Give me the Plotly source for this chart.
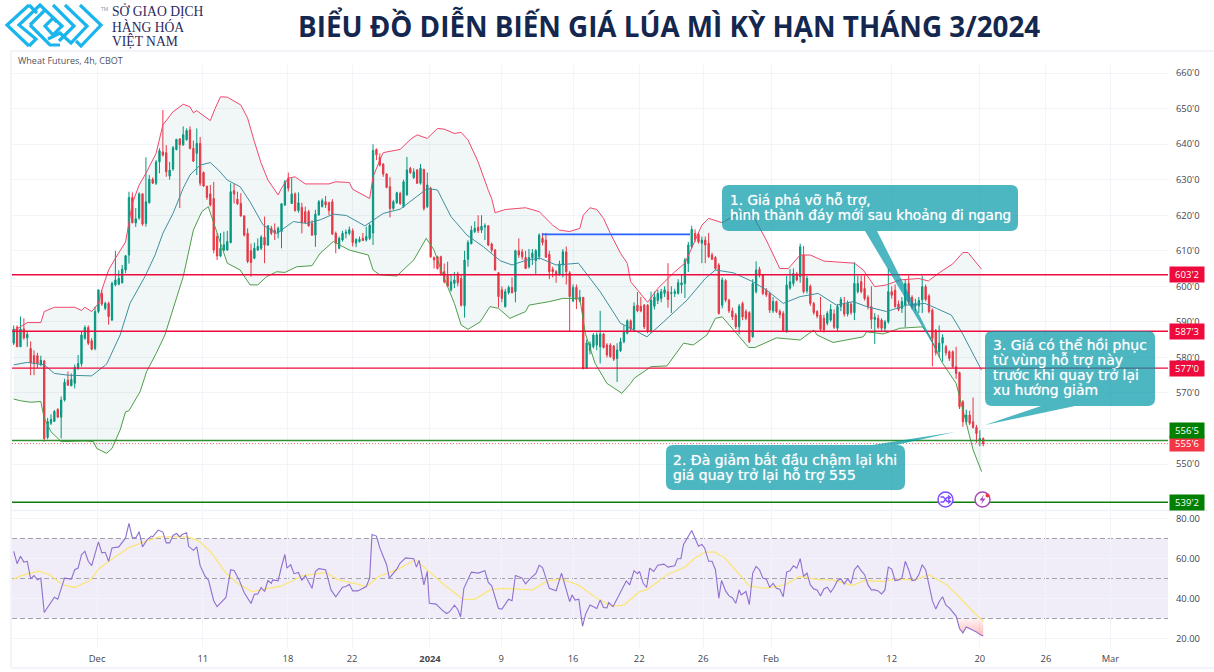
import plotly.graph_objects as go

W, H = 1214, 672

# ---------- chart text ----------
TITLE = "BIỂU ĐỒ DIỄN BIẾN GIÁ LÚA MÌ KỲ HẠN THÁNG 3/2024"
LOGO_LINES = ["SỞ GIAO DỊCH", "HÀNG HÓA", "VIỆT NAM"]
SYMBOL = "Wheat Futures, 4h, CBOT"
NOTE_1 = ["1. Giá phá vỡ hỗ trợ,", "hình thành đáy mới sau khoảng đi ngang"]
NOTE_2 = ["2. Đà giảm bắt đầu chậm lại khi", "giá quay trở lại hỗ trợ 555"]
NOTE_3 = ["3. Giá có thể hồi phục", "từ vùng hỗ trợ này", "trước khi quay trở lại", "xu hướng giảm"]

# ---------- time axis (bar numbers) ----------
date_ticks = [24.6, 55.8, 80.9, 99.8, 122.8, 143.8, 165, 184.5, 203.4, 223.4, 259, 285, 304.5, 323.5]
date_labels = ["Dec", "11", "18", "22", "<b>2024</b>", "9", "16", "22", "26", "Feb", "12", "20", "26", "Mar"]

price_ticks = [550, 560, 570, 580, 590, 600, 610, 620, 630, 640, 650, 660]
price_labels = ["550'0", "560'0", "570'0", "580'0", "590'0", "600'0", "610'0", "620'0", "630'0", "640'0", "650'0", "660'0"]
rsi_ticks = [20, 40, 60, 80]
rsi_labels = ["20.00", "40.00", "60.00", "80.00"]

# ---------- candles ----------
open_prices = [
    584,588.5,583,588,585.5,582.5,580.5,580.5,578,579,
    557.5,561.5,562,565.4,563.2,568,573.6,572,572.7,577,
    578.2,585.4,588.4,584.7,582.5,592.9,598,593.8,595.2,590.5,
    600.4,600.6,601,604.6,608.8,625,617.8,619.2,626,617.7,
    623.5,630.1,629,635,637.8,637.6,631,633,638.5,641.5,
    639.8,641.2,644,638.8,637.4,640.2,632,628.2,626,624.7,
    614,608.5,610.2,610.2,612.3,626.9,624.5,623.3,619.8,614.9,
    610,607.9,610.2,610.7,613.8,611.6,616.3,615.8,615,615.4,
    622.9,630.4,623.3,626,621.3,622.2,621,621,617.7,614.4,
    620.1,622.4,623.8,623.5,623.8,614.9,610.7,613,614.9,614.9,
    615.6,612.1,612.6,613.5,613,613.5,615,638.5,636.3,634.4,
    631.6,628,621.9,623.5,626.1,622.4,625.7,633.2,630.6,632.7,
    629,632.9,622.4,627.6,608.1,608.3,608.3,604.1,603,599,
    600.8,603.5,602.2,594.5,607.6,612,615.4,616.6,615.8,616.7,
    617,611.9,610.2,603.8,599,594.3,598.2,599.7,598.5,610,
    609.7,608.1,605.5,608,607.2,608.3,613.5,613,609,604.8,
    604.1,603.5,606,609.7,603.8,595.9,599.7,595.9,596.9,576.9,
    581.9,583,583.5,583,586.6,583.5,583.5,583.2,579.7,581.9,
    584.4,586.8,590.3,587.9,594.7,594.4,594.7,594.7,587.2,594.4,
    596,596.6,598,598.5,598,598,598,600.4,600.8,606.4,
    611.1,614.9,614.7,612.1,613,612.1,608.8,608.1,606,594.7,
    601.6,596.1,593.1,591.9,588.6,595.2,592.9,592.6,585.8,598.5,
    604.8,603.2,598.8,598,593.1,595.7,592.9,592.4,587.2,599.5,
    600.8,603.5,602.7,608.8,598.7,600,595.2,592.9,591.9,591,
    589.6,590.5,592.2,588.2,594.3,595,592.2,595,592.6,598.5,
    601.3,599.4,596.9,594.3,590.7,591,590.5,588.2,590,598.5,
    598.9,595,593.8,594.7,600.8,596.9,594.5,594.5,596.2,599.9,
    597.3,593.3,587.5,581.6,584,583,581.6,581.6,577.4,575.7,
    567.5,561.9,563.8,561.9,560.3,556.5,557.2,
]
high_prices = [
    589,589,591.5,591,587.5,584.5,582,581.3,580.5,579.3,
    563,564,565.2,565.7,569,574,576,575.5,578,580.7,
    587.2,589,589,585.4,594.3,599,599,595.7,595.7,601.3,
    610,604.5,606,608.8,626.6,626.4,622,626.4,626.2,636.3,
    631.3,630.6,635.5,638.8,649.6,639.7,635,639.5,641.5,641.5,
    645,644.4,645,641,644.4,642,632.3,628.2,628.5,629.4,
    615,615,615.4,615.6,629,628.8,626.6,626.2,620,616.3,
    612,612.3,613.5,614.4,619.6,617.2,617,617.7,616.8,623.3,
    629.9,632,630.4,626.4,626.4,623.5,622.4,621.5,618.6,621.5,
    624.3,624.7,625.4,623.8,624.5,615.4,614,615.6,616,616.8,
    616.3,613.5,614,615,616.8,617.7,640,638.8,637.4,634.6,
    631.8,630.7,624.3,626.6,626.6,630,636.4,633.6,633.2,633,
    634.4,633,632,628,608.4,608.6,608.6,606.4,606.9,603.3,
    604,604.1,603.5,610,613,617,618.3,620,620,617.7,
    617.2,612.3,610.5,604,600,599.3,600.2,602.5,610.3,613.5,
    610.5,610,610.5,610.5,610.5,614.9,615,615,610,605.5,
    604.6,607.2,610.5,611.2,604.3,600.5,600.5,599,597,585,
    584.5,586.8,587,593.1,586.9,584,584,583.5,584,585.5,
    589,590.7,590.7,595.5,598.4,597,595,595,598.5,598.5,
    599,599.3,600,606.5,600,599.3,602,603.2,608,612.5,
    617,616,615,614,614,615,609.5,608.5,606.5,602.5,
    602,596.5,594,592.5,595,595.7,593.5,593,602,607,
    605.5,603.5,599.5,598.5,597,596,593.5,593,603,604.8,
    605,604,612,611.3,603,600.5,595.6,593.3,597,592,
    593,595,593.5,595,597,597,596,595.5,606.8,603,
    603,603,597.5,600,592.5,592,591,590.5,605,600,
    600.5,596,597,602,603,597.5,596.5,597,603,600.5,
    597.8,593.8,588,589,586.5,583.5,582,582,583,576,
    568,565.3,565,568.7,561,559.5,557.5,
]
low_prices = [
    583.5,583,583,585,583,575,575,577,577.5,556.3,
    557,561,562,563,557.2,567.6,572,572,571.3,576.5,
    577.4,585,583.5,582,582,592.4,594.5,593.3,589.2,590.3,
    600,600.3,600.8,603.7,606.4,617.7,616.7,618.7,617,616.8,
    623.3,628.8,628.5,631.8,636.5,630.8,630,632.5,638.2,622,
    639.5,641,638.5,635,631.3,628.2,628,624.3,622.4,609.3,
    607.4,608.2,609.8,610,612.1,623.3,622.9,619.6,614,606.5,
    602.7,607.6,610,610.2,606.5,611.4,614.4,613,613.5,610.7,
    622.6,626.7,623.2,621,620.7,614.9,617.7,616.8,614.2,611.1,
    619.8,622.2,622,620,614.4,609.3,610.4,612.6,613.5,614.4,
    611.2,611,612.3,612.7,612.6,613,611.6,635.5,633.7,630.8,
    627.6,619.4,621.5,623.2,622.9,622.1,625.5,631.6,630.2,628.8,
    628.6,621.3,622,608,605,604.7,603,600.8,599.8,598.5,
    599.5,600,594.3,591.2,605.5,611.8,615,615,615,613,
    611.3,609.5,604.4,594,595.5,594,597.7,598,595.5,608,
    607.5,605,605,606,603.5,607.5,611.5,608,602,602.5,
    601,603,602.5,600.5,587.3,595.5,593.6,595.5,576.6,576.8,
    580.8,582.5,582,578.3,582.5,580,579.9,579,573.1,581.5,
    584,586.5,587.4,587.4,592.7,592.7,588,586.8,587,593.5,
    595,595.5,597,594,592.5,597,597.7,598,596.7,604,
    610.5,612.5,612,606.5,606.5,608,607.4,604.5,592,593.8,
    595.5,592.5,590.5,588,586.5,590.5,590.5,584,585.5,598,
    602.5,597.5,597,592.5,592.5,592.5,591,587.3,587,599,
    600,601.4,601,598,598,594.5,592,591,587.4,587,
    589,590,588,587.5,593,591.5,591.5,592,590.5,598,
    598,596,593.5,588,583.8,588,587.5,587.5,589.5,596.5,
    594,593,592.5,588.5,595,593.5,593,592.5,592.5,595.8,
    592.4,577.5,580.5,580,578.8,580.5,579,577,574,565.5,
    560.5,561,561,560,556,555,555,
]
close_prices = [
    588,583,588,585.5,586.5,578.5,578.5,578.3,579.2,557.2,
    562,562.6,564.8,563.2,568,573,572.2,573.8,577.2,578.3,
    586.3,588.4,584,582.3,592.9,599,595,595.2,591.5,600.8,
    601.8,602.2,604.8,608.6,625,617.9,619,626,617.5,623.8,
    630.1,629,635,638.1,636.9,632.2,632.7,639,641.3,639.8,
    642.6,643.8,638.8,635.2,640.2,629,628.2,625,622.9,610.2,
    608.5,610.7,611.7,612.6,626.6,626,623.2,619.8,614.4,607,
    606.7,610.7,611.2,613.8,611.6,617,614.9,614.9,616.3,623.2,
    629.4,627.6,626,621.3,623.5,617.9,617.9,617,614.4,620.3,
    623.8,624.1,622.9,621.3,614.7,612.1,613.5,614.9,615.2,615.9,
    612.3,613.2,613.2,612.9,614,617.2,638.2,637,634.1,631.6,
    627.8,621.9,623.8,626.3,623.3,629.4,632.7,632,632.2,629,
    633.2,621.9,628.5,608.3,607.4,605,603.6,601.3,600,601.3,
    601.8,601,594.7,607.4,612.3,615.8,616.3,615.6,616.9,617,
    611.6,610.2,604.6,597.1,596.6,598.5,599.7,598.2,610,608.8,
    608.3,605,608.1,609.3,610,614.4,612.3,608.2,604.1,604.1,
    603.4,606.3,609.7,604.1,597.1,599.7,596.3,596.9,576.9,584.1,
    583.8,586.3,586.3,586.6,582.8,580.7,580.2,579.5,582.1,584.4,
    587.2,590.3,587.9,594.4,593.1,593.1,588.6,587.2,596.1,597,
    598,598.5,599,596.3,598.2,598.5,601,601,607.4,611.6,
    616,613.2,612.5,613,611.6,608.3,607.6,605,592.4,601.8,
    596.1,593.1,591.4,588.6,594.4,591.4,591,584.4,600.8,604.6,
    603.2,598,597.6,593.3,595.7,592.9,592,587.7,600.4,601.3,
    603.6,601.8,611.1,598.5,602.2,595.2,592.6,591.6,587.9,587.7,
    592.4,593.5,588.5,594.3,596.3,592.2,595.2,592.6,600.8,600.8,
    598.5,596.6,594.3,590.7,591.3,588.5,588.2,590,598.5,597.5,
    594.3,593.5,595.7,600.8,595.7,594.3,595.2,596,599.9,596.3,
    592.9,585.4,581.3,584,585.6,581.3,579.7,577.4,575.5,566.1,
    561.9,563.8,561.5,560.3,558.6,557.2,555.7,
]
bars = list(range(len(close_prices)))

# ---------- Bollinger bands: (bar, value) read at the turning points ----------
upper_x = [0,2,4,8,9,12,18,20,21,23,25,26,28,30,33,35,37,39,42,44,47,50,52,53,54,58,59.4,61,63,67,69,71,73,75,78,79,81,83,86,93,95,99,100,105,106,108,109,114,117,119,122,125,127,130,132,134,137,140,141,142,145,151,155,159,161,164,167,168,170,172,174,176,179,181,182,184,187,190,193,195,198,200,203,205,209,212,216,218,222,226,228.5,232,235,239,248,250.6,254,257.5,261.4,267,269.8,273,277,280,281.5,285.5]
upper_y = [587.5,588.6,589.8,589.8,592.9,594.1,594.1,593.2,594.1,592.9,595.2,599,604.6,607.9,612.5,623.3,628.5,631.8,637.4,645.4,649.1,651.2,650.5,648.8,649.4,646.6,650,653.3,653.2,651,647.3,640.7,634.6,629.9,625.7,627.6,630.4,630.8,628.8,628.8,629.4,629.2,627.3,624.7,630.8,635.5,637.6,638.5,641.3,642.6,641.6,644.4,644.2,643,643.3,641.2,635,627,624.7,620.7,621.6,622.1,621,617.2,615.8,615.4,616.3,620,622.1,621.6,619.1,614.9,609.3,606.5,601.3,599,595.5,599.4,602.2,604.1,606.5,610.7,617.2,619.1,617.9,619.6,621,620,613,605,605,608.8,608.8,607.1,606.5,604.6,599.9,600.4,601.8,602.2,601.5,603.8,606.3,609.5,609.5,604.8]
lower_x = [0,2,5,8,9,11,14,21,23.5,24.5,27.4,29,31.4,33,34,37.3,39.2,42,44.6,47,50,53,55.5,57.4,60,63,66.8,69.7,72,74.6,77.6,80,83.5,88,90.4,94.3,99,104.6,106,108,113,118,121.7,124,127,130,132,134,137.6,140.5,143,146.4,151,152,158,162,167,168.6,171.5,175,179.4,182,183,188,192.7,197.6,200.5,204.5,207,209,216.8,218.7,225,232,236,237,241.7,246,250.6,251.6,256.5,261.4,268,270,273.7,278,281,283,285.5]
lower_y = [568.3,567.8,567.4,567.6,562.9,559.1,556.3,556.5,556.3,554.4,553,554.4,559.6,564.7,565,570.4,576,581.1,586.3,593.3,602.7,615.8,621,622.4,614.9,606.5,604.6,600.4,600.4,602.7,604.1,603.9,605.5,605.8,609.3,612.6,610.2,608.8,604.6,603.2,602.9,607.4,613.5,610.2,602.2,595.2,589.1,587.9,590,594.3,593.8,591,592.9,594.7,595.7,596.6,596.6,586.8,578.3,572.7,569.9,572.7,574.1,577.4,577.6,584,583.5,586.3,591,591.4,582.8,582.8,585.5,584.9,587.7,586.3,584.2,584.9,585.8,587.2,586.6,588.2,588.6,586.3,578.8,572.7,561.4,554,547.9]
basis_x = [0,4,9,12,16,23,27.4,31.4,34.3,38.7,41.7,44,47,50,52,55,58,60.4,63,66.8,69.7,73.6,77.6,82.5,86.4,90.4,94.3,98.2,103.6,109,114,118,122,125,129,133.7,138.6,143.5,147,151.4,155.3,160,166.6,173,179,183,186.8,191.7,198.6,204,207,212.3,218,222,227,232,237.3,242.7,247.6,251.6,257.5,263.4,268.8,272.2,276.6,279.6,283,285.5]
basis_y = [577.9,578.6,577.9,575.5,575,574.8,578.1,586.3,595.2,602.7,608.8,614.9,620.5,627.6,631.3,634.1,634.8,632.7,629.9,628,623.8,617.2,614.9,618.2,617.7,618.7,620.3,619.9,617,620.5,621.7,624.7,627.5,627.1,619.6,614.4,611.1,607.2,606,607.4,607.9,606,606.5,598.5,589.6,587.7,585.8,590,596.1,602.2,604.6,603.8,601.3,599,595.2,597.1,598,594.7,595.7,594.3,592.9,594.7,595.2,593.8,591.9,587.2,581.1,576.4]

# ---------- RSI ----------
rsi_x = [0,1,2,3,4,5,6,7,8,9,12,13,15,17,18,19,20,21,22,23,25,26,27,28,29,31,33,34,35,36,37,38,39.4,40.6,41,42.6,44,45,46,47,48,49,49.7,51,51.6,53,54,55,56.4,57.5,59,60,62.6,64,65,66.5,68,70,71,72,73,74,75,76,76.4,78,79,80,80.6,81.7,82.7,84,85,86,88,89,90,92,93.6,95,97,98,99,100,101.5,104,105,105.7,107,108,110,110.8,113,114,115.6,118,118.8,119.6,121,122,122.6,124.6,126.4,127.7,128.6,130,131,131.8,132.8,135,137,139,140,141,143,144,146,147,148,150,151,152.5,154,155,156,158,160,161.6,164,164.7,165.6,166.7,167.8,168.7,170,172,173,174,175,175.5,176.8,179.3,180.7,181.7,183,184,184.6,185.7,186.7,187.6,188.8,190,191.8,193,195,195.8,196.8,197.6,200,202,203,203.8,205,206,207,208,208.8,210,211,212,213,214,214.6,216,217,218,219,220,221,222,223,224,225,226,227,228,229,230,231,232,233,234,235,236,237,238,239,240,241,242,243,244,245,246,247,248,249,250,251,252,253,254,255,256,257,258,259,260,261,262,263,264,265,266,267,268,269,270,271,272,273,274,275,276,277,278,279,280,281,282,283,284,285,286]
rsi_y = [63.6,57.4,61.1,58.2,58.6,49.8,51.5,49.3,50.2,33,40.6,39.6,50.2,49.7,54.4,55.2,61.9,63.6,58.6,56.4,68.3,62.8,63.1,58.6,65.3,65.8,70.3,77.6,70.3,70.3,73.4,65.8,69.5,71.2,70.8,74.2,73.2,67.8,67.8,71.5,72.5,70.8,72,72.9,66.1,64.1,65.8,56.4,51.3,49,38.9,35.9,40.5,54.4,54,49.3,42.9,37.5,42.1,42.3,45.5,43.5,49,47.6,49.3,48.8,56,62,55.2,56.9,52.4,53,49,51.5,45.1,53.5,54.9,54.4,44.3,40.9,45.6,46,47.1,43.8,43.8,46,50.2,72,71.2,65.3,56.9,50.2,54.7,57.7,60.3,59.9,55.7,59.1,46.8,53.5,37.6,37.2,34.2,32.5,33.4,36.7,34.5,30.8,45.1,53.2,52.7,53.9,48,46.3,35,34.7,39.6,38.9,51.5,50.2,47.3,50.2,52.4,56.6,55.5,45.1,43.9,52.7,38.4,41.8,39.2,39.7,26.1,32.2,36.7,35,39.2,35.5,35.3,38,35.9,44.3,48.8,46.8,53.9,52.4,53.6,47.6,45.5,55.2,53.5,56.6,57.2,55.7,56.4,59.9,59.9,67,74,66.1,67,65.3,58.6,58.6,54.4,40.1,49,43.8,41.3,40.4,37.6,44.3,41.8,43.5,37,52.7,56,54.4,50.2,49.7,45.6,47.6,45.1,44.6,40.9,53.2,53.9,56.4,55.2,59.9,51,52.7,46.8,44.8,44.3,41.3,44.8,45.6,43.1,45.6,49,49.8,47.3,49.8,47.6,54.4,56.4,53.9,51.9,46.8,44.3,44.3,43.8,42.3,44.3,55.7,54.7,49,49.3,50.2,58.6,54.4,49,49.3,51.9,56.9,54.4,46.8,38.9,34.7,38.4,40.9,36.7,35.3,33.4,31.2,25,22.8,25.8,25,24.4,23.3,22,21.2]
rsi_ma_x = [0,3,7.6,10.6,14.6,18,22.5,25.3,28.7,33.8,37.7,42.8,51.3,54.6,58,62.6,66,70.4,75,78.4,81.8,85,92,95.8,101,104,107.7,113.4,118.6,122.4,127,132.6,136,140.5,144,153,157.4,161.4,166.5,172,176.4,180,184.6,187,192.7,198,201,203.8,206.7,210,213.6,217,221.2,227.6,231.7,238,241.5,247.4,251,256.7,259.6,266,270,275.3,278.8,283.5,286]
rsi_ma_y = [49.8,51.8,53.7,51.8,46.8,45.5,49,55.2,59.4,65.3,67.8,70.8,70.8,68.7,63.6,52.7,47.6,43.4,45.1,46,48.5,51.3,53,49.3,47.3,46,51,54.7,59.4,53.5,46.8,39.6,39.6,44.3,45.1,44.3,48.8,49.8,46.8,40.1,36.2,36.7,43.4,44.6,51.9,55.7,60.3,63.1,63.3,59.9,52.7,46.3,45.1,46.8,51,49.3,49.3,46.5,49,48.5,49.7,49.3,51.9,46.8,40.9,32.5,28.8]

# ---------- levels ----------
red_levels = [603.25, 587.375, 577.0]
red_level_labels = ["603'2", "587'3", "577'0"]
support_level = 556.625
support_label = "556'5"
last_price = 555.75
last_label = "555'6"
target_level = 539.25
target_label = "539'2"
blue_line_price = 614.6
blue_line_bars = [155.8, 199.5]

RED = "#ee0a3c"
UP = "#089981"
DOWN = "#f23645"
TEAL = "rgba(0,151,167,0.7)"
AXIS = "#43464f"
GRID = "#f3f4f9"
FRAME = "#eff1f8"

# pane geometry, in page pixels
PANE_L, PANE_R = 12, 1168
MAIN_T, MAIN_B = 65, 511
RSI_T, RSI_B = 512, 648


def X(px):
    return px / W


def Y(py):
    return 1 - py / H


def path(points, close=False):
    s = " ".join(("M" if i == 0 else "L") + f" {X(x):.5f} {Y(y):.5f}" for i, (x, y) in enumerate(points))
    return s + (" Z" if close else "")


def callout(l, t, r, b, side, a, c, tip):
    """Rounded box with a pointer on its top or bottom edge, as one outline."""
    k = 7
    top = [(l + k, t), (r - k, t)]
    bottom = [(r - k, b), (l + k, b)]
    if side == "top":
        top = [(l + k, t), (a, t), tip, (c, t), (r - k, t)]
    else:
        bottom = [(r - k, b), (c, b), tip, (a, b), (l + k, b)]
    s = f"M {X(top[0][0]):.5f} {Y(top[0][1]):.5f} "
    s += " ".join(f"L {X(x):.5f} {Y(y):.5f}" for x, y in top[1:])
    s += f" Q {X(r):.5f} {Y(t):.5f} {X(r):.5f} {Y(t + k):.5f}"
    s += f" L {X(r):.5f} {Y(b - k):.5f} Q {X(r):.5f} {Y(b):.5f} {X(r - k):.5f} {Y(b):.5f} "
    s += " ".join(f"L {X(x):.5f} {Y(y):.5f}" for x, y in bottom[1:])
    s += f" Q {X(l):.5f} {Y(b):.5f} {X(l):.5f} {Y(b - k):.5f}"
    s += f" L {X(l):.5f} {Y(t + k):.5f} Q {X(l):.5f} {Y(t):.5f} {X(l + k):.5f} {Y(t):.5f} Z"
    return dict(type="path", xref="paper", yref="paper", path=s, fillcolor=TEAL, line=dict(width=0), layer="above")


fig = go.Figure()

# Bollinger fill and lines
fig.add_trace(go.Scatter(x=upper_x, y=upper_y, mode="lines", line=dict(color="#f0476b", width=1), xaxis="x", yaxis="y"))
fig.add_trace(go.Scatter(x=lower_x, y=lower_y, mode="lines", line=dict(color="#4f9d4a", width=1), fill="tonexty",
                         fillcolor="rgba(0,110,110,0.055)", xaxis="x", yaxis="y"))
fig.add_trace(go.Scatter(x=basis_x, y=basis_y, mode="lines", line=dict(color="#3f8f9f", width=1), xaxis="x", yaxis="y"))

# Candles
fig.add_trace(go.Candlestick(
    x=bars, open=open_prices, high=high_prices, low=low_prices, close=close_prices,
    whiskerwidth=0,
    increasing=dict(line=dict(color=UP, width=1), fillcolor=UP),
    decreasing=dict(line=dict(color=DOWN, width=1), fillcolor=DOWN),
    xaxis="x", yaxis="y",
))

# Blue horizontal segment
fig.add_trace(go.Scatter(x=blue_line_bars, y=[blue_line_price, blue_line_price], mode="lines",
                         line=dict(color="#2962ff", width=1.6), xaxis="x", yaxis="y"))

# RSI pink area under 30
ob_x = [278.2] + [x for x in rsi_x if x >= 279] + [286, 278.2]
ob_y = [30] + [v for x, v in zip(rsi_x, rsi_y) if x >= 279] + [30, 30]
fig.add_trace(go.Scatter(x=ob_x, y=ob_y, mode="lines", line=dict(width=0), fill="toself",
                         fillgradient=dict(type="vertical",
                                           colorscale=[[0, "rgba(255,82,82,0.40)"], [1, "rgba(255,82,82,0.06)"]]),
                         xaxis="x2", yaxis="y2"))
fig.add_trace(go.Scatter(x=rsi_ma_x, y=rsi_ma_y, mode="lines", line=dict(color="#fbe67c", width=1.3), xaxis="x2", yaxis="y2"))
fig.add_trace(go.Scatter(x=rsi_x, y=rsi_y, mode="lines", line=dict(color="#8e6fd0", width=1.1), xaxis="x2", yaxis="y2"))

shapes = []

# Frame
for pts, wd in [
    ([(11, 51), (1214, 51)], 1.5),
    ([(11, 51), (11, 668)], 1.5),
    ([(11, 668), (1214, 668)], 1.5),
    ([(12, 510.5), (1208, 510.5)], 1.5),
]:
    shapes.append(dict(type="path", xref="paper", yref="paper", path=path(pts),
                       line=dict(color=FRAME, width=wd), layer="below"))

# RSI band and guides
shapes.append(dict(type="rect", xref="x2 domain", yref="y2", x0=0, x1=1, y0=30, y1=70,
                   fillcolor="rgba(126,87,194,0.11)", line=dict(width=0), layer="below"))
for lvl in (70, 50, 30):
    shapes.append(dict(type="line", xref="x2 domain", yref="y2", x0=0, x1=1, y0=lvl, y1=lvl,
                       line=dict(color="#a3a3ad", width=1, dash="5px,3px"), layer="below"))

# Levels
for lvl in red_levels:
    shapes.append(dict(type="line", xref="x domain", yref="y", x0=0, x1=1, y0=lvl, y1=lvl,
                       line=dict(color=RED, width=1.4), layer="above"))
shapes.append(dict(type="line", xref="x domain", yref="y", x0=0, x1=1, y0=support_level, y1=support_level,
                   line=dict(color="#2f8f2f", width=1.4), layer="above"))
shapes.append(dict(type="line", xref="x domain", yref="y", x0=0, x1=1, y0=last_price, y1=last_price,
                   line=dict(color=DOWN, width=0.8, dash="1px,2px"), layer="above"))
shapes.append(dict(type="line", xref="x domain", yref="y", x0=0, x1=1, y0=target_level, y1=target_level,
                   line=dict(color="#0a7d0a", width=1.4), layer="above"))

# Callouts
shapes.append(callout(722, 185, 1018, 231, "bottom", 865, 877, (941, 358)))
shapes.append(callout(666, 445, 905, 490, "top", 872, 896, (955, 432)))
shapes.append(callout(985, 331, 1155, 406, "bottom", 1041, 1075, (985, 425)))

# Bottom event icons
for cx, cy, col in [(945.5, 499.5, "#7c4dff"), (982.5, 499.5, "#ab47bc")]:
    shapes.append(dict(type="circle", xref="paper", yref="paper", x0=X(cx - 7.5), x1=X(cx + 7.5),
                       y0=Y(cy + 7.5), y1=Y(cy - 7.5), fillcolor="white", line=dict(color=col, width=1.5), layer="above"))
shapes.append(dict(type="path", xref="paper", yref="paper",
                   path=path([(940.5, 497), (943.5, 497), (947, 501.5), (950, 501.5)]) + " " +
                        path([(940.5, 502), (943.5, 502), (947, 497.5), (950, 497.5)]) + " " +
                        path([(948, 495.5), (950.5, 497.5), (948, 499.5)]) + " " +
                        path([(948, 499.5), (950.5, 501.5), (948, 503.5)]),
                   line=dict(color="#7c4dff", width=1.3), layer="above"))
shapes.append(dict(type="path", xref="paper", yref="paper",
                   path=path([(984, 494.5), (979.5, 500.5), (982.5, 500.5), (981, 504.5), (985.5, 498.5), (982.5, 498.5)], close=True),
                   fillcolor="#ab47bc", line=dict(width=0), layer="above"))
shapes.append(dict(type="circle", xref="paper", yref="paper", x0=X(985.5), x1=X(989.5), y0=Y(497.5), y1=Y(493.5),
                   fillcolor=DOWN, line=dict(width=0), layer="above"))

# Logo
LOGO = "#1ab5ec"
logo_paths = [
    [(29, 5), (7, 25), (29, 46)],
    [(29, 5), (37, 13)],
    [(29, 46), (36, 39), (19, 25), (40, 5), (62, 26), (53, 35), (45, 26), (53, 18), (57, 22)],
    [(53, 5), (74, 26), (59, 41)],
    [(65, 5), (87, 26), (71, 43), (60, 33), (48, 39)],
    [(80, 5), (101, 25), (81, 46), (76, 41)],
    [(30, 25), (45, 10)],
    [(30, 25), (50, 45), (60, 45)],
]
for p in logo_paths:
    shapes.append(dict(type="path", xref="paper", yref="paper", path=path(p),
                       line=dict(color=LOGO, width=3.2), layer="above"))

annotations = [
    dict(text=TITLE, x=X(668.5), y=Y(26), xref="paper", yref="paper", showarrow=False, yanchor="middle",
         font=dict(family="Open Sans", size=27.8, color="#14274e", weight="bold")),
    dict(text=SYMBOL, x=X(16), y=Y(60), xref="paper", yref="paper", showarrow=False, xanchor="left", yanchor="middle",
         font=dict(family="Open Sans", size=9, color="#50535e")),
    dict(text="TM", x=X(99), y=Y(9), xref="paper", yref="paper", showarrow=False, yanchor="middle",
         font=dict(family="Open Sans", size=5, color="#8a8fa0")),
]
for i, line in enumerate(LOGO_LINES):
    annotations.append(dict(text=line, x=X(110), y=Y(11.5 + 15 * i), xref="paper", yref="paper", showarrow=False,
                            xanchor="left", yanchor="middle",
                            font=dict(family="Liberation Serif", size=13.6, color="#2b2a5e")))
for lines, lx, first_y, size in [(NOTE_1, 728, 199.5, 13.7), (NOTE_2, 671, 459.5, 14), (NOTE_3, 991, 345, 14)]:
    for i, line in enumerate(lines):
        annotations.append(dict(text=line, x=X(lx), y=Y(first_y + 15 * i), xref="paper", yref="paper", showarrow=False,
                                xanchor="left", yanchor="middle", align="left",
                                font=dict(family="DejaVu Sans", size=size, color="white",
                                          shadow="0 0 1px rgba(255,255,255,0.7)")))


def level_box(price, text, color, shift=0):
    annotations.append(dict(text=text, x=X(1169), y=price, xref="paper", yref="y", showarrow=False,
                            xanchor="left", yanchor="middle", yshift=shift, width=32, height=13, align="center",
                            bgcolor=color, font=dict(family="Open Sans", size=9.5, color="white")))


for lvl, lab in zip(red_levels, red_level_labels):
    level_box(lvl, lab, RED)
level_box(last_price, last_label, DOWN)
level_box(support_level, support_label, "#008000", shift=10)
level_box(target_level, target_label, "#008000")

tickfont = dict(family="Open Sans", size=9.4, color=AXIS)
fig.update_layout(
    width=W, height=H, autosize=False,
    margin=dict(l=0, r=0, t=0, b=0),
    paper_bgcolor="white", plot_bgcolor="white",
    showlegend=False, hovermode=False, boxgap=0.45,
    shapes=shapes, annotations=annotations,
    xaxis=dict(domain=[X(PANE_L), X(PANE_R)], range=[-0.5, 340.5], anchor="y", rangeslider=dict(visible=False),
               tickmode="array", tickvals=date_ticks, showticklabels=False, ticks="",
               showgrid=True, gridcolor=GRID, gridwidth=1, zeroline=False, showline=False),
    yaxis=dict(domain=[Y(MAIN_B), Y(MAIN_T)], range=[536.8, 662.25], anchor="x", side="right",
               tickmode="array", tickvals=price_ticks, ticktext=price_labels, tickfont=tickfont, ticks="",
               ticklabelstandoff=7, showgrid=True, gridcolor=GRID, gridwidth=1, zeroline=False, showline=False),
    xaxis2=dict(domain=[X(PANE_L), X(PANE_R)], range=[-0.5, 340.5], anchor="y2", matches="x",
                tickmode="array", tickvals=date_ticks, ticktext=date_labels, tickfont=tickfont, ticks="",
                ticklabelstandoff=4, tickangle=0,
                showgrid=True, gridcolor=GRID, gridwidth=1, zeroline=False, showline=False),
    yaxis2=dict(domain=[Y(RSI_B), Y(RSI_T)], range=[15.25, 83.25], anchor="x2", side="right",
                tickmode="array", tickvals=rsi_ticks, ticktext=rsi_labels, tickfont=tickfont, ticks="",
                ticklabelstandoff=7, showgrid=True, gridcolor=GRID, gridwidth=1, zeroline=False, showline=False),
)

fig.write_html("out.html", post_script="document.body.style.margin='0';document.body.style.overflow='hidden';",
               config=dict(displayModeBar=False))
